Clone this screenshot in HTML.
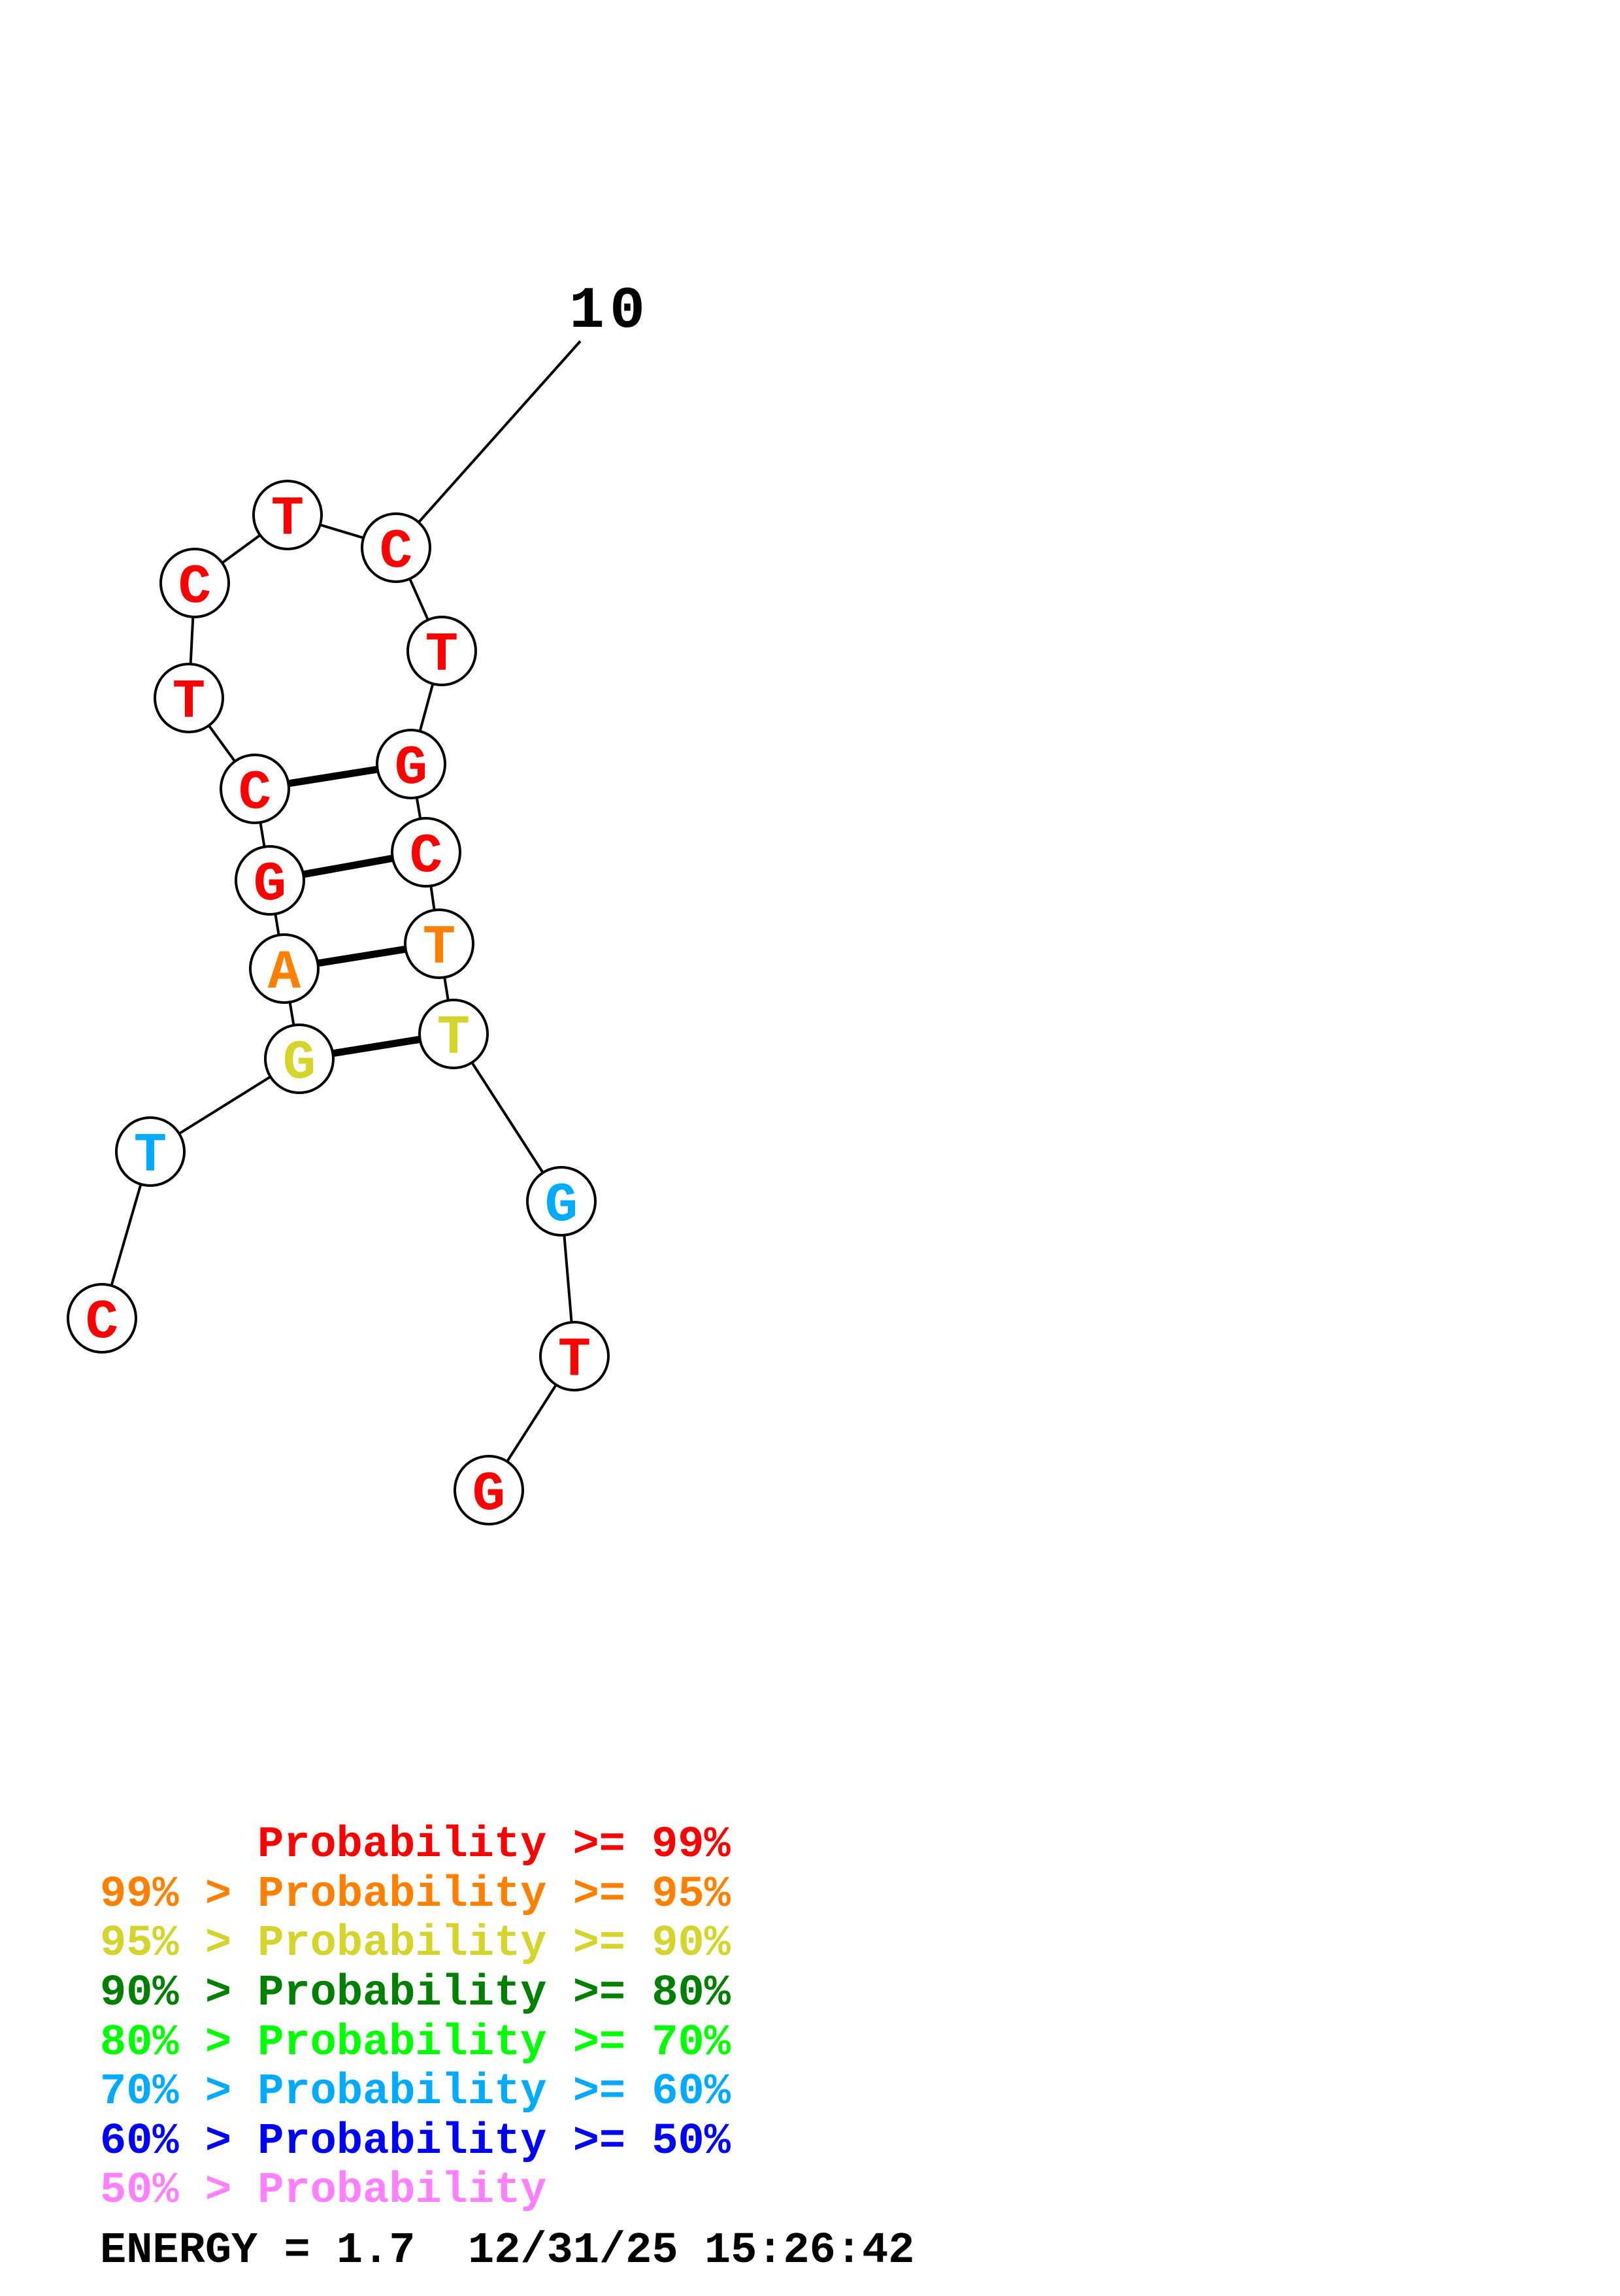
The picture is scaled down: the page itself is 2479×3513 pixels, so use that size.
<!DOCTYPE html>
<html><head><style>html,body{margin:0;padding:0;background:#fff}</style></head>
<body>
<svg width="2479" height="3508" viewBox="0 0 2479 3508" xmlns="http://www.w3.org/2000/svg">
<g transform="translate(-2,-5)">
<g stroke="#000" stroke-width="4" fill="none">
<line x1="890" y1="527" x2="608" y2="843"/>
<polyline points="608,843 442,793 300,897 291,1073 392,1212 415,1352 437,1487 460,1625 232,1767 158,2022"/>
<polyline points="608,843 678,1001 631,1174 654,1309 674,1449 696,1587 861,1843 881,2080 750,2285"/>
</g>
<g stroke="#000" stroke-width="11">
<line x1="392" y1="1212" x2="631" y2="1174"/>
<line x1="415" y1="1352" x2="654" y2="1309"/>
<line x1="437" y1="1487" x2="674" y2="1449"/>
<line x1="460" y1="1625" x2="696" y2="1587"/>
</g>
<g stroke="#000" stroke-width="4" fill="#fff">
<circle cx="608" cy="843" r="52"/><circle cx="442" cy="793" r="52"/><circle cx="300" cy="897" r="52"/>
<circle cx="291" cy="1073" r="52"/><circle cx="392" cy="1212" r="52"/><circle cx="415" cy="1352" r="52"/>
<circle cx="437" cy="1487" r="52"/><circle cx="460" cy="1625" r="52"/><circle cx="232" cy="1767" r="52"/>
<circle cx="158" cy="2022" r="52"/><circle cx="678" cy="1001" r="52"/><circle cx="631" cy="1174" r="52"/>
<circle cx="654" cy="1309" r="52"/><circle cx="674" cy="1449" r="52"/><circle cx="696" cy="1587" r="52"/>
<circle cx="861" cy="1843" r="52"/><circle cx="881" cy="2080" r="52"/><circle cx="750" cy="2285" r="52"/>
</g>
<g font-family="Liberation Mono, monospace" font-weight="bold" font-size="84" text-anchor="middle">
<text x="608" y="872" fill="#ff0000">C</text>
<text x="442" y="822" fill="#ff0000">T</text>
<text x="300" y="926" fill="#ff0000">C</text>
<text x="291" y="1102" fill="#ff0000">T</text>
<text x="392" y="1241" fill="#ff0000">C</text>
<text x="415" y="1381" fill="#ff0000">G</text>
<text x="437" y="1516" fill="#ff8000">A</text>
<text x="460" y="1654" fill="#d4d42a">G</text>
<text x="232" y="1796" fill="#00aaff">T</text>
<text x="158" y="2051" fill="#ff0000">C</text>
<text x="678" y="1030" fill="#ff0000">T</text>
<text x="631" y="1203" fill="#ff0000">G</text>
<text x="654" y="1338" fill="#ff0000">C</text>
<text x="674" y="1478" fill="#ff8000">T</text>
<text x="696" y="1616" fill="#d4d42a">T</text>
<text x="861" y="1872" fill="#00aaff">G</text>
<text x="881" y="2109" fill="#ff0000">T</text>
<text x="750" y="2314" fill="#ff0000">G</text>
<text x="935" y="505" fill="#000" font-size="90" letter-spacing="8">10</text>
</g>
</g>
<g font-family="Liberation Mono, monospace" font-weight="bold" font-size="67">
<text x="394" y="2840" fill="#ff0000">Probability &gt;= 99%</text>
<text x="153" y="2916" fill="#ff8000">99% &gt; Probability &gt;= 95%</text>
<text x="153" y="2991" fill="#d4d42a">95% &gt; Probability &gt;= 90%</text>
<text x="153" y="3067" fill="#008000">90% &gt; Probability &gt;= 80%</text>
<text x="153" y="3143" fill="#00ff00">80% &gt; Probability &gt;= 70%</text>
<text x="153" y="3218" fill="#00aaff">70% &gt; Probability &gt;= 60%</text>
<text x="153" y="3294" fill="#0000ff">60% &gt; Probability &gt;= 50%</text>
<text x="153" y="3369" fill="#ff80ff">50% &gt; Probability</text>
<text x="153" y="3461" fill="#000">ENERGY = 1.7</text>
<text x="716" y="3461" fill="#000">12/31/25 15:26:42</text>
</g>
</svg>
</body></html>
